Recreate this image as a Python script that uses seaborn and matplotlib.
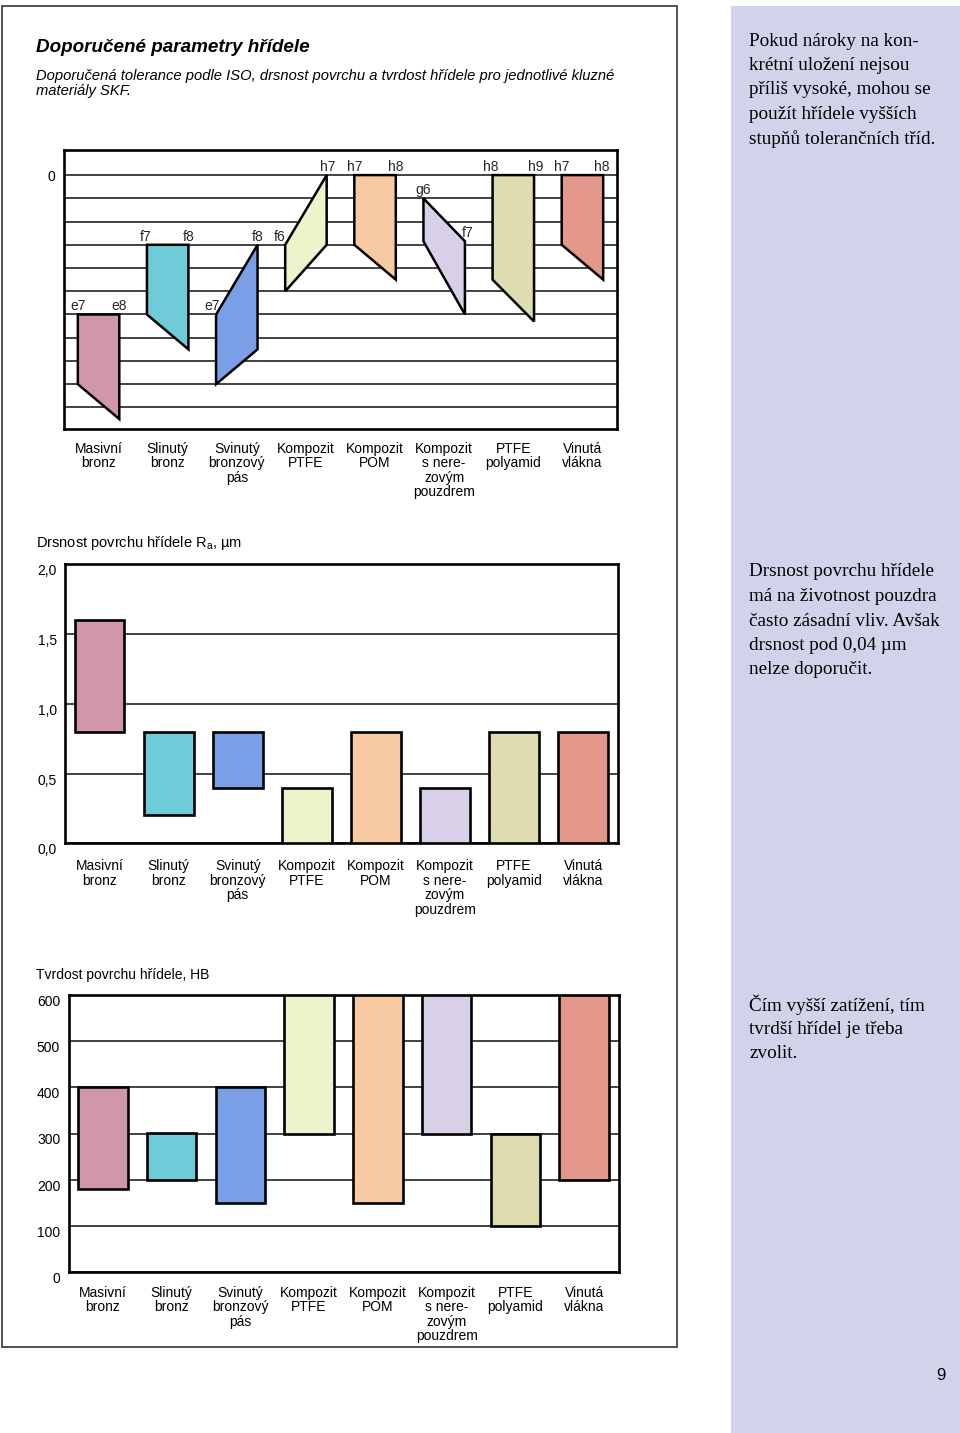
import numpy as np
import matplotlib
matplotlib.use("Agg")
import matplotlib.pyplot as plt
import matplotlib.patches as mpatches
import matplotlib.transforms as mtransforms
import seaborn as sns

# categories (same order in all three charts)
materials = ["Masivní\nbronz", "Slinutý\nbronz", "Svinutý\nbronzový\npás", "Kompozit\nPTFE",
             "Kompozit\nPOM", "Kompozit\ns nere-\nzovým\npouzdrem", "PTFE\npolyamid", "Vinutá\nvlákna"]
colors = ["#CF97A9", "#6ECBD8", "#7B9FE6", "#ECF4CB", "#F8CAA3", "#D8D0E6", "#DEDCB0", "#E4988B"]

# ISO tolerance fields, in grid steps below the zero line
tol_top_left = [-6, -3, -6, -3, 0, -1, 0, 0]
tol_top_right = [-6, -3, -3, 0, 0, -2.85, 0, 0]
tol_bot_right = [-10.5, -7.5, -7.5, -3, -4.5, -6, -6.3, -4.5]
tol_bot_left = [-9, -6, -9, -5, -3, -2.85, -4.5, -3]
tol_left_labels = ["e7", "f7", "e7", "f6", "h7", "g6", "h8", "h7"]
tol_right_labels = ["e8", "f8", "f8", "h7", "h8", "f7", "h9", "h8"]

# surface roughness Ra, µm
ra_low = [0.8, 0.2, 0.4, 0.0, 0.0, 0.0, 0.0, 0.0]
ra_high = [1.6, 0.8, 0.8, 0.4, 0.8, 0.4, 0.8, 0.8]
ra_ticks = [0.0, 0.5, 1.0, 1.5, 2.0]
ra_ticklabels = ["0,0", "0,5", "1,0", "1,5", "2,0"]

# surface hardness HB
hb_low = [180, 200, 150, 300, 150, 300, 100, 200]
hb_high = [400, 300, 400, 600, 600, 600, 300, 600]
hb_ticks = [0, 100, 200, 300, 400, 500, 600]

# side notes
note1 = ["Pokud nároky na kon-", "krétní uložení nejsou", "příliš vysoké, mohou se",
         "použít hřídele vyšších", "stupňů tolerančních tříd."]
note2 = ["Drsnost povrchu hřídele", "má na životnost pouzdra", "často zásadní vliv. Avšak",
         "drsnost pod 0,04 µm", "nelze doporučit."]
note3 = ["Čím vyšší zatížení, tím", "tvrdší hřídel je třeba", "zvolit."]

sns.set_theme(style="white")
plt.rcParams["font.family"] = ["Liberation Sans", "DejaVu Sans"]

W, H = 960, 1433
fig = plt.figure(figsize=(W / 100, H / 100), dpi=100)
fig.patch.set_facecolor("white")


def box(l, t, r, b):
    return [l / W, 1 - b / H, (r - l) / W, (b - t) / H]


def ftext(x, y, s, **kw):
    fig.text(x / W, 1 - y / H, s, va="center", ha="left", color="black", **kw)


# page frame and side panel
fig.add_artist(mpatches.Rectangle((2 / W, 1 - 1347 / H), 675 / W, 1341 / H, transform=fig.transFigure,
                                  fill=False, edgecolor="#333333", lw=1.2))
fig.add_artist(mpatches.Rectangle((731 / W, 0), 229 / W, 1427 / H, transform=fig.transFigure,
                                  facecolor="#D0D3EA", edgecolor="none"))

# header
ftext(36, 48, "Doporučené parametry hřídele", fontsize=13.6, fontweight="bold", style="italic")
ftext(36, 76, "Doporučená tolerance podle ISO, drsnost povrchu a tvrdost hřídele pro jednotlivé kluzné",
      fontsize=10.6, style="italic")
ftext(36, 91, "materiály SKF.", fontsize=10.6, style="italic")

serif = ["Liberation Serif", "DejaVu Serif"]
for lines, y0 in [(note1, 41), (note2, 572), (note3, 1005)]:
    for k, line in enumerate(lines):
        ftext(749, y0 + 24.5 * k, line, fontsize=13.8, family=serif)
ftext(936, 1375, "9", fontsize=12)

ftext(36, 543, "Drsnost povrchu hřídele R$_\\mathregular{a}$, µm", fontsize=10.5)
ftext(36, 975, "Tvrdost povrchu hřídele, HB", fontsize=10)


def style_axes(ax, xpad):
    for s in ax.spines.values():
        s.set_visible(True)
        s.set_linewidth(1.9)
        s.set_color("black")
    ax.yaxis.grid(True, color="#222222", linewidth=1.2)
    ax.xaxis.grid(False)
    ax.set_axisbelow(True)
    ax.tick_params(axis="both", length=0, labelsize=10, colors="black")
    ax.tick_params(axis="x", pad=xpad)
    ax.tick_params(axis="y", pad=6)
    ax.set_xlabel("")
    ax.set_ylabel("")
    for t in ax.get_xticklabels():
        t.set_linespacing(1.04)


# 1) tolerance chart
ax1 = fig.add_axes(box(64, 150, 617, 429.5))
half = 0.3
for i in range(len(materials)):
    xs = [i - half, i + half, i + half, i - half]
    ys = [tol_top_left[i], tol_top_right[i], tol_bot_right[i], tol_bot_left[i]]
    ax1.fill(xs, ys, facecolor=colors[i], edgecolor="black", lw=1.8, zorder=3)
left_dx = [0, -1, -4, -6, 0, 0, -2, 0]
right_dx = [0, 0, 0, 1, 0, 2.5, 1.5, -1.5]
for i in range(len(materials)):
    ax1.annotate(tol_left_labels[i], (i - half, tol_top_left[i]), xytext=(left_dx[i], 8),
                 textcoords="offset pixels", ha="center", va="center", fontsize=10, zorder=4)
    ax1.annotate(tol_right_labels[i], (i + half, tol_top_right[i]), xytext=(right_dx[i], 8),
                 textcoords="offset pixels", ha="center", va="center", fontsize=10, zorder=4)
ax1.set_xlim(-0.5, 7.5)
ax1.set_ylim(-10.95, 1.08)
ax1.set_yticks(range(0, -11, -1))
ax1.set_yticklabels(["0"] + [""] * 10)
ax1.set_xticks(range(len(materials)))
ax1.set_xticklabels(materials)
style_axes(ax1, 9)

down = mtransforms.ScaledTranslation(0, -5.5 / 100, fig.dpi_scale_trans)

# 2) roughness chart
ax2 = fig.add_axes(box(65, 564.5, 617.7, 843.3))
sns.barplot(x=materials, y=np.subtract(ra_high, ra_low), bottom=ra_low, ax=ax2, width=0.72,
            errorbar=None, color=colors[0], edgecolor="black", linewidth=1.9, zorder=3)
for p, c in zip(ax2.patches, colors):
    p.set_facecolor(c)
ax2.set_ylim(0, 2.0)
ax2.set_xlim(-0.5, 7.5)
ax2.set_yticks(ra_ticks)
ax2.set_yticklabels(ra_ticklabels)
style_axes(ax2, 11.5)
for lab in ax2.get_yticklabels():
    lab.set_transform(lab.get_transform() + down)

# 3) hardness chart
ax3 = fig.add_axes(box(68.5, 995, 618.5, 1272))
sns.barplot(x=materials, y=np.subtract(hb_high, hb_low), bottom=hb_low, ax=ax3, width=0.72,
            errorbar=None, color=colors[0], edgecolor="black", linewidth=1.9, zorder=3)
for p, c in zip(ax3.patches, colors):
    p.set_facecolor(c)
ax3.set_ylim(0, 600)
ax3.set_xlim(-0.5, 7.5)
ax3.set_yticks(hb_ticks)
ax3.set_yticklabels([str(v) for v in hb_ticks])
style_axes(ax3, 10)
for lab in ax3.get_yticklabels():
    lab.set_transform(lab.get_transform() + down)

fig.savefig("out.png", dpi=100)
